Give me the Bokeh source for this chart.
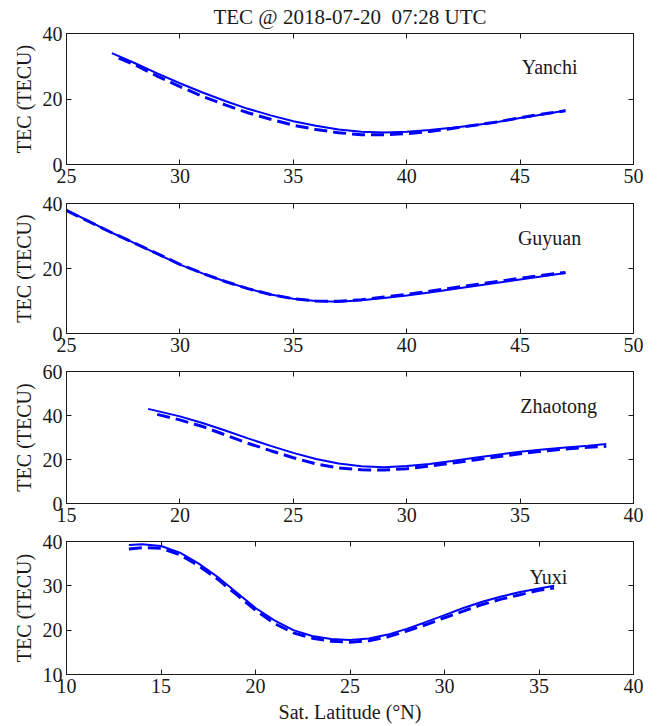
from bokeh.plotting import figure
from bokeh.layouts import column
from bokeh.models import LinearAxis, Range1d, FixedTicker, CustomLabelingPolicy
from bokeh.core.properties import value
from bokeh.embed import file_html
from bokeh.resources import INLINE

FONT = "Liberation Serif"
BLUE = "#0000FF"
INK = "#1a1a1a"

TITLE = "TEC @ 2018-07-20\u00a0 07:28 UTC"

# Yanchi
yan_lat = [27, 28, 29, 30, 31, 32, 33, 34, 35, 36, 37, 38, 39, 40, 41, 42, 43, 44, 45, 46, 47]
yan_obs = [34, 31, 27.8, 24.8, 22, 19.4, 17, 15, 13.2, 11.8, 10.7, 10, 9.8, 10, 10.5, 11.2, 12, 13, 14.2, 15.3, 16.5]
yan_lat_d = [27.3, 28, 29, 30, 31, 32, 33, 34, 35, 36, 37, 38, 39, 40, 41, 42, 43, 44, 45, 46, 47]
yan_mod = [32.5, 30.5, 27, 23.8, 20.8, 18.2, 15.8, 13.8, 12, 10.7, 9.7, 9.1, 9.1, 9.4, 10.1, 11, 12, 13, 14.3, 15.4, 16.4]

# Guyuan
guy_lat = [25, 26, 27, 28, 29, 30, 31, 32, 33, 34, 35, 36, 37, 38, 39, 40, 41, 42, 43, 44, 45, 46, 47]
guy_obs = [38, 34.5, 31, 27.8, 24.5, 21.2, 18.5, 16, 13.8, 12, 10.7, 10, 9.8, 10.2, 10.9, 11.7, 12.6, 13.6, 14.6, 15.6, 16.6, 17.6, 18.6]
guy_mod = [37.8, 34.4, 31, 27.8, 24.6, 21.3, 18.5, 16, 13.8, 12, 10.7, 10, 9.9, 10.4, 11.2, 12, 13, 14, 15, 16, 17, 17.9, 18.8]

# Zhaotong
zha_lat = [18.6, 20, 21, 22, 23, 24, 25, 26, 27, 28, 29, 30, 31, 32, 33, 34, 35, 36, 37, 38, 38.8]
zha_obs = [43, 39.6, 36.6, 33.2, 29.6, 26.2, 23, 20.2, 18.2, 16.9, 16.5, 17, 18, 19.3, 20.8, 22.2, 23.5, 24.6, 25.5, 26.2, 27]
zha_lat_d = [19, 20, 21, 22, 23, 24, 25, 26, 27, 28, 29, 30, 31, 32, 33, 34, 35, 36, 37, 38, 38.8]
zha_mod = [40.5, 38, 35, 31.2, 27.4, 24, 20.8, 18, 16.2, 15.3, 15.2, 15.8, 17, 18.4, 19.8, 21.2, 22.6, 23.8, 24.8, 25.6, 26]

# Yuxi
yux_lat = [13.3, 14, 15, 16, 17, 18, 19, 20, 21, 22, 23, 24, 25, 26, 27, 28, 29, 30, 31, 32, 33, 34, 35, 35.8]
yux_obs = [39.2, 39.4, 39, 37.5, 35, 32, 28.5, 25, 22.2, 20, 18.7, 18, 17.8, 18.1, 19, 20.3, 21.8, 23.4, 25, 26.4, 27.6, 28.6, 29.4, 30]
yux_mod = [38.3, 38.6, 38.5, 37, 34.5, 31.5, 28, 24.5, 21.5, 19.4, 18.2, 17.5, 17.3, 17.6, 18.5, 19.8, 21.2, 22.8, 24.3, 25.8, 27, 28, 29, 29.5]

panels = [
    dict(name="Yanchi", xr=(25, 50), yr=(0, 40), xt=[25, 30, 35, 40, 45, 50], yt=[0, 20, 40],
         lat=yan_lat, obs=yan_obs, latd=yan_lat_d, mod=yan_mod, lab=(46.3, 29.9)),
    dict(name="Guyuan", xr=(25, 50), yr=(0, 40), xt=[25, 30, 35, 40, 45, 50], yt=[0, 20, 40],
         lat=guy_lat, obs=guy_obs, latd=guy_lat, mod=guy_mod, lab=(46.3, 29.5)),
    dict(name="Zhaotong", xr=(15, 40), yr=(0, 60), xt=[15, 20, 25, 30, 35, 40], yt=[0, 20, 40, 60],
         lat=zha_lat, obs=zha_obs, latd=zha_lat_d, mod=zha_mod, lab=(36.7, 44.5)),
    dict(name="Yuxi", xr=(10, 40), yr=(10, 40), xt=[10, 15, 20, 25, 30, 35, 40], yt=[10, 20, 30, 40],
         lat=yux_lat, obs=yux_obs, latd=yux_lat, mod=yux_mod, lab=(35.5, 31.9)),
]

# (border top, frame height, border bottom)
borders = [(33, 131, 28), (8, 130, 27), (8, 132, 27), (8, 133, 42)]

hide_labels = CustomLabelingPolicy(code="return []")

figs = []
for i, (pn, (bt, fh, bb)) in enumerate(zip(panels, borders)):
    p = figure(frame_width=567, frame_height=fh, output_backend="svg", toolbar_location=None,
               x_range=Range1d(*pn["xr"]), y_range=Range1d(*pn["yr"]),
               min_border_left=66, min_border_right=12, min_border_top=bt, min_border_bottom=bb,
               background_fill_color="white", border_fill_color="white")
    p.grid.visible = False
    p.outline_line_color = INK
    p.outline_line_width = 1
    p.xaxis.ticker = FixedTicker(ticks=pn["xt"])
    p.yaxis.ticker = FixedTicker(ticks=pn["yt"])
    for ax in [p.xaxis[0], p.yaxis[0]]:
        ax.major_tick_in = 5
        ax.major_tick_out = 0
        ax.minor_tick_line_color = None
        ax.axis_line_color = INK
        ax.major_tick_line_color = INK
        ax.major_label_text_font = FONT
        ax.major_label_text_font_size = "20px"
        ax.major_label_text_color = INK
        ax.axis_label_text_font = FONT
        ax.axis_label_text_font_size = "20px"
        ax.axis_label_text_font_style = "normal"
        ax.axis_label_text_color = INK
    p.xaxis.major_label_standoff = 4
    p.yaxis.major_label_standoff = 4
    p.yaxis.axis_label = "TEC (TECU)"
    p.yaxis.axis_label_standoff = 5
    if i == 3:
        p.xaxis.axis_label = "Sat. Latitude (°N)"
        p.xaxis.axis_label_standoff = 5
    # mirror ticks on right and top (no labels)
    ra = LinearAxis(ticker=FixedTicker(ticks=pn["yt"]), major_tick_in=5, major_tick_out=0,
                    minor_tick_line_color=None, major_label_policy=hide_labels,
                    major_label_standoff=0, axis_line_color=INK, major_tick_line_color=INK)
    p.add_layout(ra, "right")
    ta = LinearAxis(ticker=FixedTicker(ticks=pn["xt"]), major_tick_in=5, major_tick_out=0,
                    minor_tick_line_color=None, major_label_policy=hide_labels,
                    major_label_standoff=0, axis_line_color=INK, major_tick_line_color=INK)
    if i == 0:
        # figure title, carried by the top mirror axis so it sits in the border
        ta.major_label_text_font_size = "0px"
        ta.axis_label = TITLE
        ta.axis_label_text_font = FONT
        ta.axis_label_text_font_size = "21px"
        ta.axis_label_text_font_style = "normal"
        ta.axis_label_text_color = INK
        ta.axis_label_standoff = 5
    p.add_layout(ta, "above")

    p.line(pn["latd"], pn["mod"], line_color=BLUE, line_width=3, line_dash="13 6")
    p.line(pn["lat"], pn["obs"], line_color=BLUE, line_width=2)
    p.text(x=[pn["lab"][0]], y=[pn["lab"][1]], text=[pn["name"]], text_font=value(FONT),
           text_font_size="20px", text_align="center", text_baseline="middle", text_color=INK)
    figs.append(p)

layout = column(*figs, spacing=0)
open("out.html", "w").write(file_html(layout, INLINE))
